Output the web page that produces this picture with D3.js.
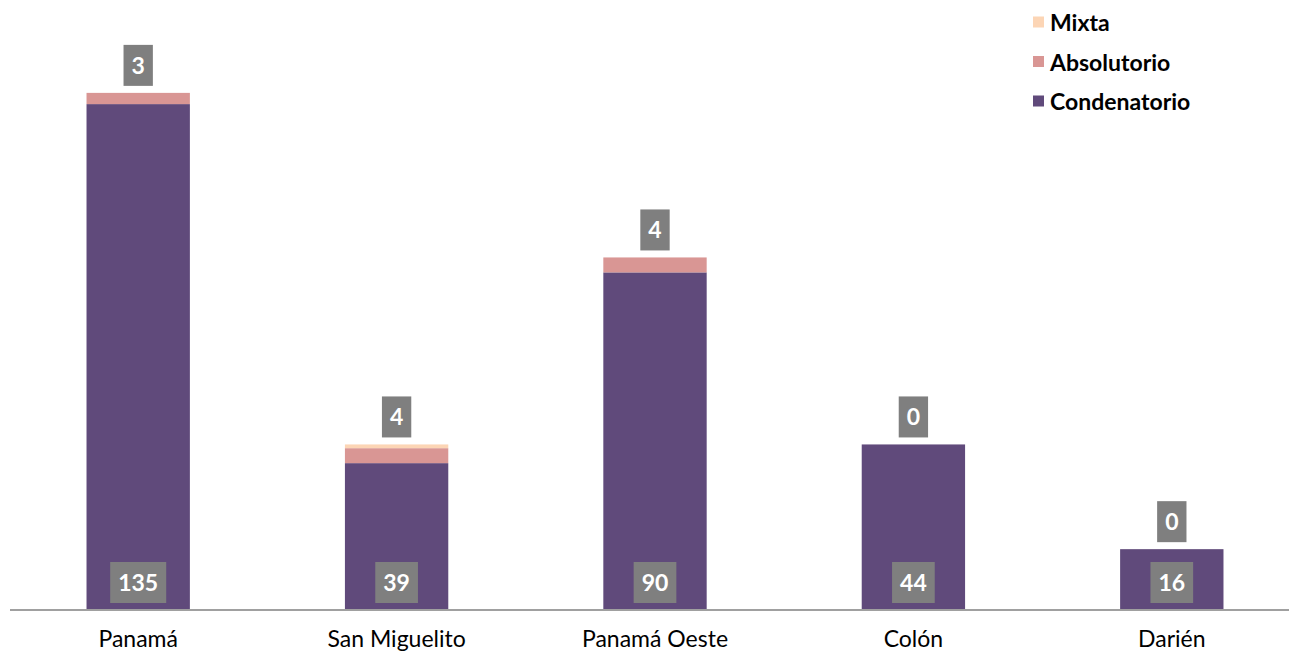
<!DOCTYPE html>
<html>
<head>
<meta charset="utf-8">
<script src="https://cdn.jsdelivr.net/npm/d3@7"></script>
<style>
  body { margin: 0; background: #fff; }
  svg { display: block; font-family: Lato, "Open Sans", sans-serif; }
</style>
</head>
<body>
<svg id="chart" width="1291" height="654"></svg>
<script>
  const categories = ["Panamá", "San Miguelito", "Panamá Oeste", "Colón", "Darién"];
  const condenatorio = [135, 39, 90, 44, 16];
  const absolutorio = [3, 4, 4, 0, 0];
  const mixta = [0, 1, 0, 0, 0];
  const seriesNames = ["Condenatorio", "Absolutorio", "Mixta"];
  const colors = ["#604a7b", "#d99694", "#fcd5b5"];

  const svg = d3.select("#chart");
  const base = 609;

  const x = d3.scaleBand().domain(categories).range([9, 1301]).paddingInner(0.6).paddingOuter(0.3);
  const y = d3.scaleLinear().domain([0, 150]).range([base, 48]);

  const rows = categories.map((c, i) => ({
    cat: c, Condenatorio: condenatorio[i], Absolutorio: absolutorio[i], Mixta: mixta[i]
  }));
  const stack = d3.stack().keys(seriesNames)(rows);

  // bars
  stack.forEach((s, k) => {
    svg.append("g")
      .selectAll("rect")
      .data(s)
      .join("rect")
        .attr("x", d => x(d.data.cat))
        .attr("width", x.bandwidth())
        .attr("y", d => y(d[1]))
        .attr("height", d => y(d[0]) - y(d[1]))
        .attr("fill", colors[k]);
  });

  // axis line
  svg.append("line")
    .attr("x1", 10).attr("x2", 1289)
    .attr("y1", base + 1).attr("y2", base + 1)
    .attr("stroke", "#a0a0a0").attr("stroke-width", 2);

  // category labels
  const xAxis = svg.append("g")
    .attr("transform", `translate(0,${base})`)
    .call(d3.axisBottom(x).tickSize(0).tickPadding(22));
  xAxis.select(".domain").remove();
  xAxis.selectAll("text")
    .attr("font-family", "Lato, 'Open Sans', sans-serif")
    .attr("font-size", 23)
    .attr("fill", "#000");

  function label(g, text, cx, cy) {
    const t = g.append("text")
      .attr("x", cx).attr("y", cy)
      .attr("text-anchor", "middle")
      .attr("dominant-baseline", "central")
      .attr("font-size", 23).attr("font-weight", "bold")
      .attr("fill", "#fff")
      .text(text);
    const w = t.node().getComputedTextLength() + 16;
    g.insert("rect", "text")
      .attr("x", cx - w / 2).attr("y", cy - 20)
      .attr("width", w).attr("height", 41)
      .attr("fill", "#7f7f7f");
  }

  // Condenatorio labels at bar foot
  rows.forEach((r, i) => {
    const g = svg.append("g");
    label(g, condenatorio[i], x(r.cat) + x.bandwidth() / 2, base - 27);
  });

  // Absolutorio labels above stack
  rows.forEach((r, i) => {
    const g = svg.append("g");
    const top = y(condenatorio[i] + absolutorio[i] + mixta[i]);
    label(g, absolutorio[i], x(r.cat) + x.bandwidth() / 2, top - 28);
  });

  // legend
  const legendItems = [
    { name: "Mixta", color: colors[2] },
    { name: "Absolutorio", color: colors[1] },
    { name: "Condenatorio", color: colors[0] }
  ];
  const leg = svg.append("g").attr("transform", "translate(1033,22)");
  legendItems.forEach((d, i) => {
    const row = leg.append("g").attr("transform", `translate(0,${i * 39.5})`);
    row.append("rect").attr("x", 0).attr("y", -5.5).attr("width", 11).attr("height", 11).attr("fill", d.color);
    row.append("text").attr("x", 17).attr("y", 0)
      .attr("dominant-baseline", "central")
      .attr("font-size", 23).attr("font-weight", "bold").attr("fill", "#000")
      .text(d.name);
  });
</script>
</body>
</html>
